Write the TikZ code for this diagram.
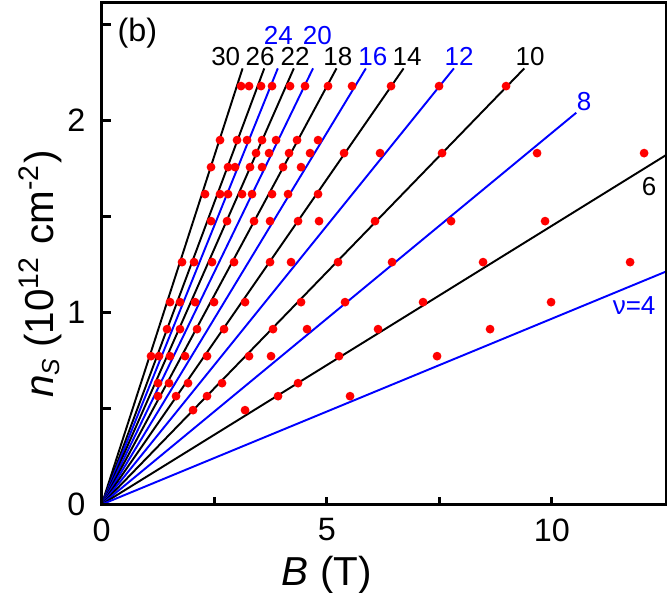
\documentclass[tikz,border=0pt]{standalone}
\usepackage{fontspec}
\setmainfont{Liberation Sans}
\usetikzlibrary{positioning}
\definecolor{lblue}{RGB}{0,0,255}
\definecolor{dotred}{RGB}{255,0,0}
\tikzset{fan/.style={line width=0.55pt, black}}
\tikzset{fanb/.style={line width=0.55pt, lblue}}
\tikzset{dot/.style={fill=dotred}}
\tikzset{lvl/.style={font=\fontsize{7.4}{8}\selectfont, inner sep=0pt}}
\tikzset{ticklbl/.style={font=\fontsize{9.2}{10}\selectfont, inner sep=0pt}}

\begin{document}
\begin{tikzpicture}[x=0.45cm, y=1.92cm]
    \useasboundingbox (-2.26,-0.457) rectangle (12.56,2.627);

    % Fan lines
    \foreach \v/\st in {30/fan,26/fan,24/fanb,22/fan,20/fanb,18/fan,16/fanb,14/fan,12/fanb,10/fan}
        \draw[\st] (0,0) -- ({2.271/(0.02418*\v)},2.271);
    \draw[fanb] (0,0) -- ({2.04/(0.02418*8)},2.04);
    \draw[fan] (0,0) -- (12.54,{6*0.02418*12.54});
    \draw[fanb] (0,0) -- (12.54,{4*0.02418*12.54});

    % Data points
    \foreach \py/\row in {86/{241,249,261,272,290,305,328,352,391,439,506},
                          140/{220,237,247,262,276,297,318},
                          153/{256,269,289,310,344,380,442,537,644},
                          167/{211,228,235,250,262,283,301},
                          194/{205,220,228,242,252,272,288,318},
                          221/{211,227,254,270,298,319,375,451,545},
                          262/{182,194,212,234,270,291,338,392,483,630},
                          302/{170,180,195,214,245,301,345,423,551},
                          329/{167,180,197,224,273,307,378,490},
                          356/{151,159,170,185,207,249,271,339,437},
                          383/{158,169,188,222,298},
                          396/{158,176,207,278,350},
                          410/{193,245}}
        \foreach \px in \row
            \fill[dot] ({(\px-101.7)/45},{(504.3-\py)/192}) circle (0.044cm);

    % Frame and ticks
    \draw[line width=0.85pt] (0,2.613) -- (0,0) -- (12.54,0) -- (12.54,2.613) -- cycle;
    \foreach \b in {2.5,5,7.5,10}
        \draw[line width=0.85pt] (\b,0) -- ++(0,0.04);
    \foreach \n in {0.5,1,1.5,2,2.5}
        \draw[line width=0.85pt] (0,\n) -- ++(0.2,0);

    % Tick labels
    \foreach \b in {0,5,10}
        \node[ticklbl, anchor=north] (xl\b) at (\b,-0.07) {\b};
    \foreach \n in {0,1,2}
        \node[ticklbl, anchor=east] (yl\n) at (-0.35,\n) {\n};

    % Axis titles
    \node[font=\fontsize{11.5}{12}\selectfont] (xtitle) at (5,-0.37) {\textit{B} (T)};
    \node[font=\fontsize{11.5}{12}\selectfont, rotate=90] (ytitle) at (-1.37,1.2)
        {\textit{n}\raisebox{-0.3ex}{\scriptsize\textit{S}} (10\textsuperscript{12} cm\textsuperscript{-2})};
    \node[ticklbl] (panel) at ({(137.3-101.7)/45},{(504.3-33.3)/192}) {(b)};

    % Filling factor labels
    \foreach \px/\py/\t/\c in {225.7/56.7/30/black, 260/56.7/26/black, 295/56.7/22/black,
                               337.7/56.7/18/black, 372.7/56.7/16/lblue, 407/56.7/14/black,
                               459/56.7/12/lblue, 530/56.7/10/black, 278.3/35/24/lblue,
                               317.3/35/20/lblue, 584/101.7/8/lblue, 649/186.7/6/black}
        \node[lvl, text=\c] (nu\t) at ({(\px-101.7)/45},{(504.3-\py)/192}) {\t};
    \node[lvl, text=lblue] (nu4) at ({(634-101.7)/45},{(504.3-305)/192}) {ν=4};
\end{tikzpicture}
\end{document}
